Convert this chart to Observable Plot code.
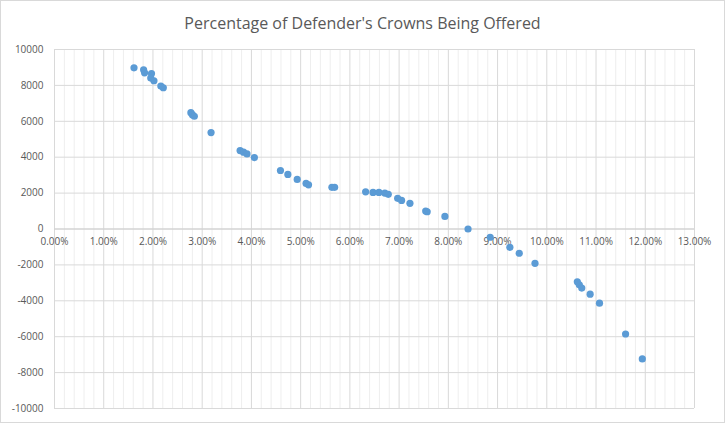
<!DOCTYPE html>
<html>
<head>
<meta charset="utf-8">
<script src="https://cdn.jsdelivr.net/npm/d3@7"></script>
<script src="https://cdn.jsdelivr.net/npm/@observablehq/plot@0.6"></script>
<style>
  html, body { margin: 0; padding: 0; background: #fff; }
  #wrap { width: 723px; height: 421px; border: 1px solid #d9d9d9; position: relative; overflow: hidden; }
  #title { height: 40px; line-height: 44px; text-align: center; font-family: "Open Sans", sans-serif; font-size: 16px; color: #595959; }
  svg { display: block; }
</style>
</head>
<body>
<div id="wrap">
<div id="title">Percentage of Defender's Crowns Being Offered</div>
<div id="chart"></div>
</div>
<script>
const pctOffered = [
  0.01615, 0.0181, 0.0183, 0.0197, 0.01955, 0.0202, 0.0216, 0.0221,
  0.0277, 0.0280, 0.0284, 0.0318, 0.0377, 0.0384, 0.0391, 0.0406,
  0.0459, 0.0474, 0.0493, 0.0511, 0.0516, 0.05635, 0.0569,
  0.0632, 0.0647, 0.0659, 0.0671, 0.0678, 0.0697, 0.0705, 0.0722,
  0.0754, 0.0757, 0.0793, 0.0840, 0.0885, 0.0925, 0.0944, 0.0976,
  0.1062, 0.1066, 0.1071, 0.1088, 0.1107, 0.1160, 0.1194
];
const crowns = [
  8980, 8870, 8700, 8660, 8410, 8260, 7960, 7870,
  6480, 6370, 6280, 5370, 4370, 4280, 4180, 3980,
  3260, 3040, 2760, 2540, 2460, 2320, 2320,
  2070, 2040, 2040, 2000, 1930, 1710, 1590, 1430,
  1000, 960, 700, 0, -460, -1020, -1350, -1910,
  -2940, -3110, -3290, -3630, -4130, -5850, -7240
];
const xTicks = d3.range(0, 14).map(i => i / 100);
const xMinor = d3.range(0, 66).map(i => i / 500).filter(v => Math.round(v * 500) % 5 !== 0);
const yTicks = d3.range(-10000, 10001, 2000);

const data = pctOffered.map((x, i) => ({x, y: crowns[i]}));
const fmt = d3.format(".2%");
const gridMajor = "#d9d9d9";
const gridMinor = "#eeeeee";
const textColor = "#595959";

const chart = Plot.plot({
  width: 723,
  height: 381,
  marginTop: 8,
  marginBottom: 14,
  marginLeft: 53,
  marginRight: 30,
  style: {fontFamily: "'Open Sans', sans-serif", fontSize: "10px", color: textColor, background: "#fff"},
  x: {domain: [0, 0.13], axis: null},
  y: {domain: [-10000, 10000], ticks: yTicks, tickSize: 0, tickPadding: 11, label: null, tickFormat: d => String(d)},
  marks: [
    Plot.ruleX(xMinor, {stroke: gridMinor, strokeWidth: 1}),
    Plot.ruleX(xTicks, {stroke: gridMajor, strokeWidth: 1}),
    Plot.ruleY(yTicks, {stroke: gridMajor, strokeWidth: 1}),
    Plot.ruleY([0], {stroke: "#d0d0d0", strokeWidth: 1}),
    Plot.text(xTicks, {x: d => d, y: () => 0, text: d => fmt(d), dy: 13, fill: textColor, fontSize: 10}),
    Plot.dot(data, {x: "x", y: "y", r: 3.6, fill: "#5b9bd5", stroke: "none"})
  ]
});
document.getElementById("chart").appendChild(chart);
</script>
</body>
</html>
